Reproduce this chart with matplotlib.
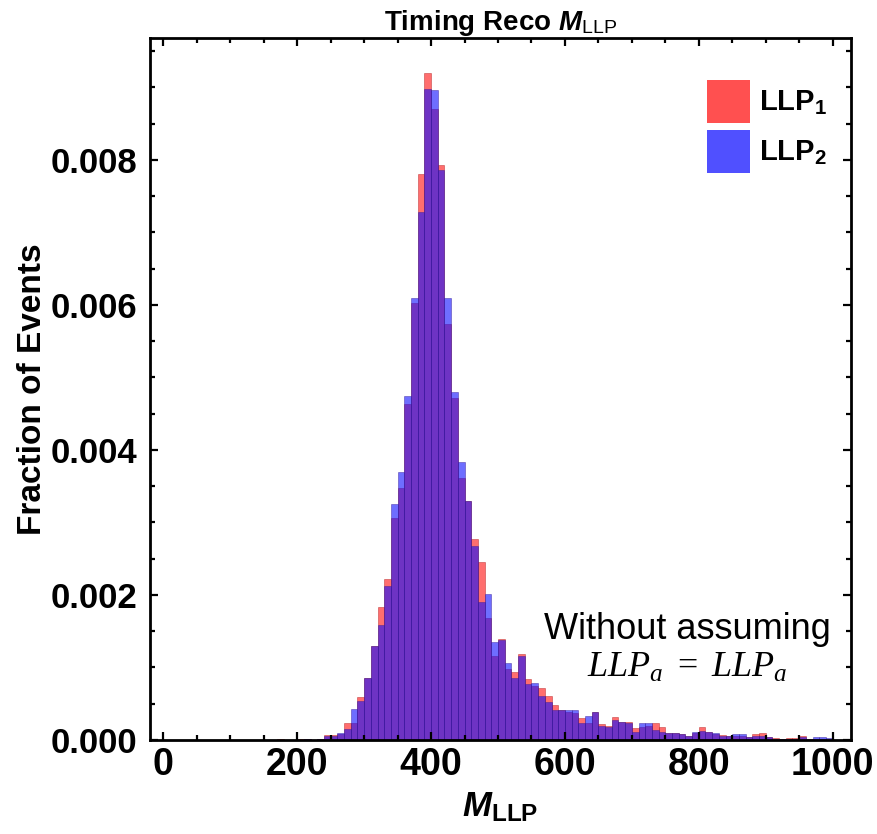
import numpy as np
import matplotlib
matplotlib.use("Agg")
import matplotlib.pyplot as plt
from matplotlib.patches import Patch
from matplotlib.ticker import MultipleLocator, FormatStrFormatter

plt.rcParams['font.family'] = ['Liberation Sans', 'DejaVu Sans']
plt.rcParams['mathtext.fontset'] = 'custom'
plt.rcParams['mathtext.rm'] = 'Liberation Sans'
plt.rcParams['mathtext.bf'] = 'Liberation Sans:bold'
plt.rcParams['mathtext.it'] = 'Liberation Serif:italic'
plt.rcParams['mathtext.bfit'] = 'Liberation Sans:bold:italic'
plt.rcParams['mathtext.sf'] = 'Liberation Serif'

# histogram bins (left edges, width 10) and fractions of events
bin_start = 170
bin_width = 10
llp1 = [0.00002, 0.0, 0.0, 0.00001, 0.00002, 0.0, 0.00002, 0.00007,   # 170-240
        0.00007, 0.00008, 0.00023, 0.00023, 0.00059, 0.00085, 0.0013,  # 250-310
        0.00183, 0.00222, 0.00306, 0.00348, 0.00464, 0.00602, 0.0078,  # 320-380
        0.0092, 0.0087, 0.00793, 0.00573, 0.00472, 0.00361, 0.0033,    # 390-450
        0.00277, 0.00246, 0.00168, 0.00116, 0.00139, 0.00098, 0.00094, # 460-520
        0.00118, 0.00084, 0.00074, 0.00072, 0.0006, 0.00048, 0.00042,  # 530-590
        0.00038, 0.00037, 0.00031, 0.00023, 0.00038, 0.00022, 0.00020, # 600-660
        0.00032, 0.00025, 0.00025, 0.00016, 0.00018, 0.00019, 0.00024, # 670-730
        0.00018, 0.000095, 0.00009, 0.000085, 0.00006, 0.0001, 0.00018, # 740-800
        0.00011, 0.00008, 0.000075, 0.00006, 0.00006, 0.00005, 0.00004, # 810-870
        0.000085, 0.0001, 0.00004, 0.00003, 0.00001, 0.00003, 0.00003,  # 880-940
        0.00006, 0.000015, 0.00002, 0.00001, 0.00001]                   # 950-990
llp2 = [0.0, 0.0, 0.0, 0.0, 0.00001, 0.0, 0.00002, 0.00005,
        0.00005, 0.0001, 0.00015, 0.00043, 0.00054, 0.00085, 0.0013,
        0.00159, 0.00212, 0.00325, 0.0037, 0.00475, 0.0061, 0.00728,
        0.00898, 0.00896, 0.00786, 0.0061, 0.0048, 0.00384, 0.0033,
        0.00268, 0.0019, 0.00201, 0.00135, 0.00138, 0.00106, 0.00086,
        0.00116, 0.00077, 0.00079, 0.0006, 0.00053, 0.00042, 0.00042,
        0.00042, 0.00041, 0.00024, 0.00033, 0.00038, 0.00019, 0.00018,
        0.00027, 0.00025, 0.00024, 0.00011, 0.00023, 0.00023, 0.00014,
        0.00011, 0.00009, 0.000095, 0.00008, 0.00006, 0.00011, 0.00013,
        0.00011, 0.0001, 0.00006, 0.00006, 0.000085, 0.000085, 0.00004,
        0.00005, 0.00006, 0.00004, 0.000015, 0.000015, 0.00001, 0.000015,
        0.00004, 0.000015, 0.00004, 0.00004, 0.00003]

bins = bin_start + bin_width * np.arange(len(llp1))

red = (1.0, 0.05, 0.05)
blue = (0.05, 0.05, 1.0)

fig = plt.figure(figsize=(8.77, 8.34), dpi=100)
ax = fig.add_axes([0.171, 0.1127, 0.799, 0.8417])

ax.bar(bins, llp1, width=bin_width, align='edge', color=red, alpha=0.6,
       edgecolor=(0.7, 0.1, 0.1, 0.35), linewidth=0.5)
ax.bar(bins, llp2, width=bin_width, align='edge', color=blue, alpha=0.6,
       edgecolor=(0.2, 0.1, 0.6, 0.35), linewidth=0.5)

ax.set_xlim(-20, 1027)
ax.set_ylim(0, 0.00968)

ax.xaxis.set_major_locator(MultipleLocator(200))
ax.xaxis.set_minor_locator(MultipleLocator(50))
ax.yaxis.set_major_locator(MultipleLocator(0.002))
ax.yaxis.set_minor_locator(MultipleLocator(0.0005))
ax.yaxis.set_major_formatter(FormatStrFormatter('%.3f'))

ax.tick_params(which='both', direction='in', top=True, right=True,
               width=1.6)
ax.tick_params(axis='x', labelsize=27, pad=5)
ax.tick_params(axis='y', labelsize=25, pad=9)
ax.tick_params(which='major', length=6)
ax.tick_params(which='minor', length=3.5)
for lab in ax.get_xticklabels() + ax.get_yticklabels():
    lab.set_fontweight('bold')
for s in ax.spines.values():
    s.set_linewidth(2)

ax.set_ylabel('Fraction of Events', fontsize=24, fontweight='bold', labelpad=2)
ax.set_xlabel(r'$\mathbfit{M}_{\mathbf{LLP}}$', fontsize=25, labelpad=6)
ax.set_title(r'Timing Reco $\mathbfit{M}_{\mathrm{LLP}}$', fontsize=20,
             fontweight='bold', pad=5)

handles = [Patch(facecolor=red, alpha=0.72, edgecolor='none'),
           Patch(facecolor=blue, alpha=0.72, edgecolor='none')]
leg = ax.legend(handles, [r'LLP$_{\mathbf{1}}$', r'LLP$_{\mathbf{2}}$'],
                loc='upper right', bbox_to_anchor=(1.003, 0.978),
                frameon=False, handlelength=1.5,
                handleheight=1.9, handletextpad=0.28, labelspacing=0.25,
                prop={'weight': 'bold', 'size': 21})

ax.text(0.767, 0.157, 'Without assuming', transform=ax.transAxes,
        ha='center', va='center', fontsize=26)
ax.text(0.766, 0.103, r'$LLP_a\ \mathsf{=}\ LLP_a$', transform=ax.transAxes,
        ha='center', va='center', fontsize=26)

fig.savefig('out.png', dpi=100)
